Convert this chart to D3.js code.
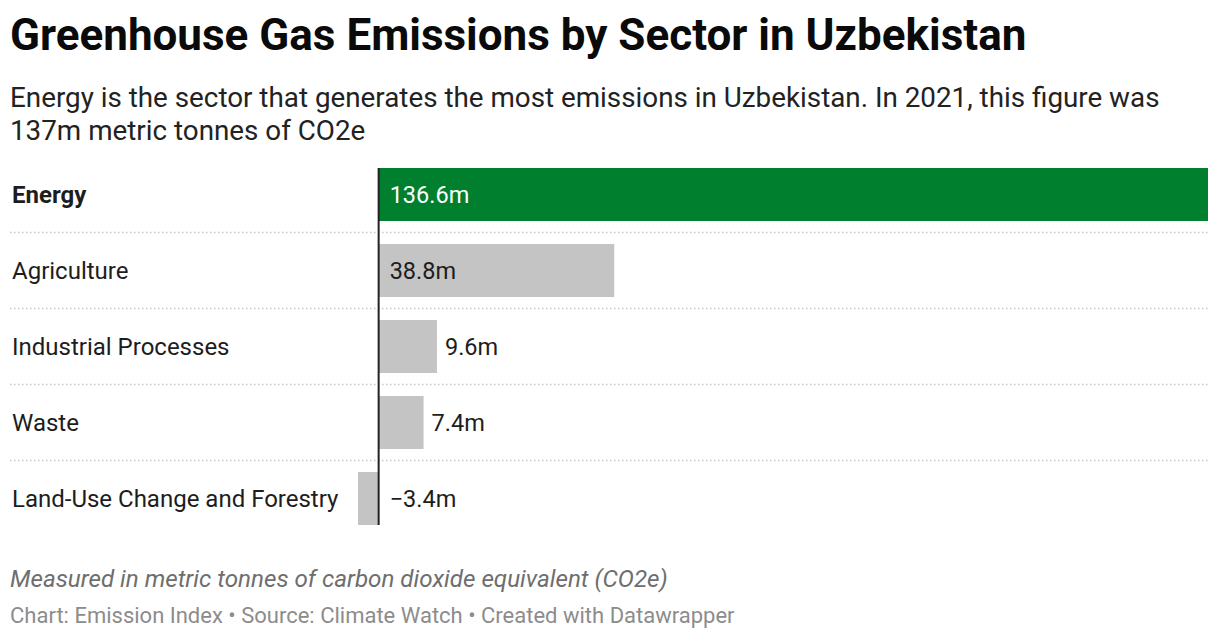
<!DOCTYPE html>
<html>
<head>
<meta charset="utf-8">
<script src="https://cdn.jsdelivr.net/npm/d3@7"></script>
<style>
  body { margin: 0; background: #fff; font-family: Roboto, "Noto Sans", sans-serif; }
  svg text { font-family: Roboto, "Noto Sans", sans-serif; }
</style>
</head>
<body>
<div id="chart"></div>
<script>
// data
const sectors = ["Energy", "Agriculture", "Industrial Processes", "Waste", "Land-Use Change and Forestry"];
const emissions = [136.6, 38.8, 9.6, 7.4, -3.4];
const highlight = ["Energy"];

const title = "Greenhouse Gas Emissions by Sector in Uzbekistan";
const subtitle = [
  "Energy is the sector that generates the most emissions in Uzbekistan. In 2021, this figure was",
  "137m metric tonnes of CO2e"
];
const notes = "Measured in metric tonnes of carbon dioxide equivalent (CO2e)";
const credits = "Chart: Emission Index \u2022 Source: Climate Watch \u2022 Created with Datawrapper";

const w = 1220, h = 640;

const svg = d3.select("#chart")
  .append("svg")
  .attr("width", w)
  .attr("height", h);

// header
svg.append("text")
  .attr("x", 10).attr("y", 50)
  .attr("font-size", 44).attr("font-weight", 700)
  .attr("fill", "#0a0a0a")
  .text(title);

svg.selectAll(".sub")
  .data(subtitle)
  .enter()
  .append("text")
  .attr("class", "sub")
  .attr("x", 10)
  .attr("y", (d, i) => 107 + i * 32.5)
  .attr("font-size", 27.8)
  .attr("fill", "#222")
  .text((d) => d);

const data = sectors.map((s, i) => ({ sector: s, value: emissions[i] }));

const x = d3.scaleLinear()
  .domain([d3.min(emissions), d3.max(emissions)])
  .range([358, 1208]);

const y = d3.scaleBand()
  .domain(sectors)
  .range([168, 525])
  .paddingInner(23 / 76)
  .paddingOuter(0);

// dotted separators between rows
svg.selectAll(".sep")
  .data(sectors.slice(0, -1))
  .enter()
  .append("line")
  .attr("class", "sep")
  .attr("x1", 10).attr("x2", 1208)
  .attr("y1", (d) => y(d) + y.bandwidth() + y.step() * 0.3026 / 2)
  .attr("y2", (d) => y(d) + y.bandwidth() + y.step() * 0.3026 / 2)
  .attr("stroke", "#c8c8c8")
  .attr("stroke-width", 1.5)
  .attr("stroke-dasharray", "1.5,2.5");

// bars
svg.selectAll(".bar")
  .data(data)
  .enter()
  .append("rect")
  .attr("class", "bar")
  .attr("x", (d) => x(Math.min(0, d.value)))
  .attr("y", (d) => y(d.sector))
  .attr("width", (d) => Math.abs(x(d.value) - x(0)))
  .attr("height", y.bandwidth())
  .attr("fill", (d) => highlight.includes(d.sector) ? "#00802f" : "#c4c4c4");

// category labels
svg.selectAll(".cat")
  .data(data)
  .enter()
  .append("text")
  .attr("class", "cat")
  .attr("x", 12)
  .attr("y", (d) => y(d.sector) + y.bandwidth() / 2)
  .attr("dy", "0.35em")
  .attr("font-size", 24)
  .attr("font-weight", (d) => highlight.includes(d.sector) ? 700 : 400)
  .attr("fill", "#1d1d1d")
  .text((d) => d.sector);

// value labels
const fmt = (v) => (v < 0 ? "\u2212" : "") + Math.abs(v).toFixed(1) + "m";
svg.selectAll(".val")
  .data(data)
  .enter()
  .append("text")
  .attr("class", "val")
  .attr("x", (d) => {
    const bw = x(d.value) - x(0);
    if (d.value < 0) return x(0) + 11;
    return bw > 100 ? x(0) + 11 : x(d.value) + 8;
  })
  .attr("y", (d) => y(d.sector) + y.bandwidth() / 2)
  .attr("dy", "0.35em")
  .attr("font-size", 23.5)
  .attr("fill", (d) => highlight.includes(d.sector) ? "#fff" : "#1d1d1d")
  .text((d) => fmt(d.value));

// zero baseline
svg.append("line")
  .attr("x1", x(0)).attr("x2", x(0))
  .attr("y1", y.range()[0]).attr("y2", y.range()[1])
  .attr("stroke", "#222")
  .attr("stroke-width", 2);

// footer
svg.append("text")
  .attr("x", 10).attr("y", 587)
  .attr("font-size", 24.2).attr("font-style", "italic")
  .attr("fill", "#6e6e6e")
  .text(notes);

svg.append("text")
  .attr("x", 10).attr("y", 623)
  .attr("font-size", 22)
  .attr("fill", "#8c8c8c")
  .text(credits);
</script>
</body>
</html>
